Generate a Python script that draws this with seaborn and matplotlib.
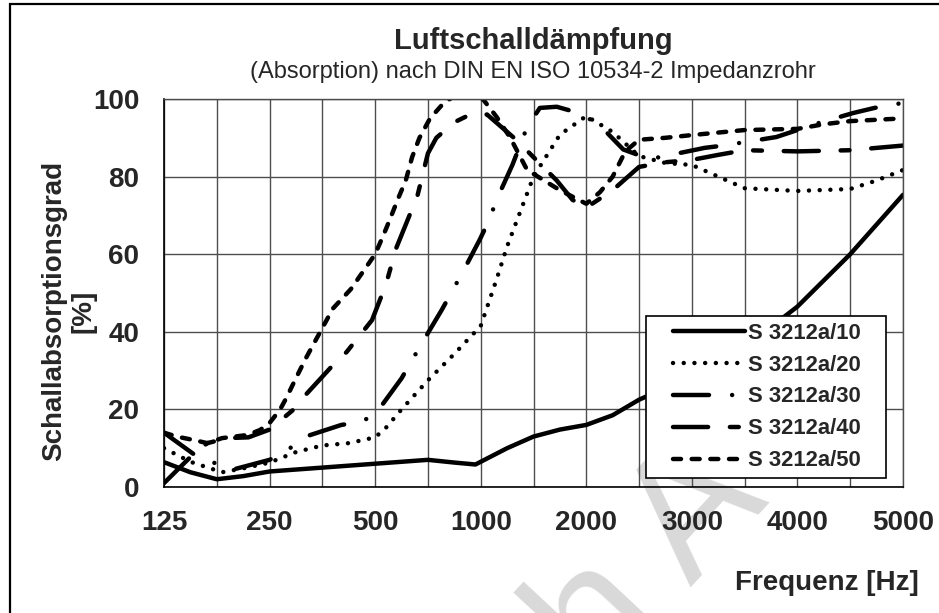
import numpy as np
import matplotlib
matplotlib.use("Agg")
import matplotlib.pyplot as plt
from matplotlib.patches import Rectangle
import seaborn as sns

# x axis: category positions, 0 = 125 Hz ... 7 = 5000 Hz (half steps have grid lines)
FREQ_LABELS = ["125", "250", "500", "1000", "2000", "3000", "4000", "5000"]
Y_TICKS = [0, 20, 40, 60, 80, 100]

NAMES = ["S 3212a/10", "S 3212a/20", "S 3212a/30", "S 3212a/40", "S 3212a/50"]

x10 = [0, 0.25, 0.5, 0.75, 1, 1.5, 2, 2.5, 2.75, 2.95, 3.25, 3.5, 3.75, 4, 4.25, 4.5, 5, 5.5, 6, 6.5, 7]
y10 = [6.4, 3.8, 2, 2.8, 4, 5, 6, 7, 6.3, 5.8, 10, 13, 14.8, 16, 18.5, 22.5, 28.5, 36, 46.5, 60, 75.3]

x20 = [0, 0.25, 0.55, 0.75, 1, 1.25, 1.5, 1.75, 2, 2.1, 2.25, 2.5, 2.75, 3, 3.15, 3.25, 3.5,
       3.75, 4, 4.25, 4.5, 4.75, 5, 5.25, 5.5, 6, 6.5, 6.75, 7]
y20 = [10, 6.5, 3.8, 4.8, 6.3, 9, 10.7, 11.3, 12.8, 15.2, 20, 27.5, 34.3, 41.5, 53.5, 62, 80,
       90.8, 95.6, 91.5, 85.3, 83.5, 83, 80, 77, 76.3, 76.8, 79, 81.7]

x30 = [0, 0.29, 0.64, 1, 1.17, 1.33, 1.68, 1.88, 2.03, 2.25, 2.35, 2.45, 2.63, 2.73, 2.83,
       2.99, 3.08, 3.15, 3.3, 3.44, 3.56, 3.72, 3.85, 4.1, 4.35, 4.6, 4.8, 5.12, 5.3, 5.8,
       6.2, 6.53, 6.73, 7]
y30 = [14, 8.3, 4.4, 7, 9.5, 12.9, 16, 16.8, 19.8, 28, 32.7, 37.4, 45.6, 50.5, 55.4,
       63.7, 68.8, 74, 83, 92.8, 97.7, 98, 97, 94, 87, 84.5, 85.6, 87.4, 88, 90.2,
       93.8, 96.4, 97.7, 99]

x40 = [0, 0.29, 0.41, 0.6, 0.8, 1.0, 1.22, 1.35, 1.6, 1.73, 1.97, 2.1, 2.2, 2.4, 2.5, 2.58,
       2.75, 2.9, 3.06, 3.34, 3.5, 3.72, 3.87, 4.0, 4.25, 4.5, 4.75, 5.0, 5.25, 5.5, 6.0, 6.5, 7]
y40 = [1, 8.8, 11.3, 12.6, 12.8, 14.8, 19.8, 24, 31.4, 34.8, 43, 52, 61.6, 75, 86, 90,
       94, 96, 96, 89.4, 85, 79, 74, 72, 76.5, 82.5, 83.7, 84.3, 85.6, 86.8, 86.5, 86.8, 88]

x50 = [0, 0.12, 0.3, 0.41, 0.55, 0.79, 0.91, 1.0, 1.1, 1.16, 1.24, 1.34, 1.5, 1.6, 1.77, 2.0,
       2.08, 2.14, 2.22, 2.29, 2.35, 2.42, 2.52, 2.65, 2.85, 3.02, 3.15, 3.28, 3.44, 3.6,
       3.75, 4.0, 4.13, 4.25, 4.37, 4.5, 4.75, 5.0, 5.5, 6.0, 6.25, 6.5, 7]
y50 = [14, 13, 12, 11.3, 12.6, 13.4, 14.7, 16.5, 20, 23, 27.5, 33, 41, 46, 51, 60,
       65, 69, 74.5, 79, 85, 90, 95, 99, 102.5, 100, 95.4, 90, 81.7, 79,
       76.5, 73, 76, 80, 86.5, 89.5, 90, 90.7, 92, 92.3, 93.5, 94.3, 95]

SERIES_X = [x10, x20, x30, x40, x50]
SERIES_Y = [y10, y20, y30, y40, y50]

# dash patterns in units of line width (round caps)
DASHES = [None, (0.01, 2.4), (8.1, 5.2, 0.01, 5.2), (7.9, 4.9, 2.0, 4.9), (1.8, 2.4)]

sns.set_style("white")
plt.rcParams["font.family"] = ["Liberation Sans", "DejaVu Sans"]

fig = plt.figure(figsize=(9.39, 6.13), dpi=100)
W, H = 939, 613
ax = fig.add_axes([164 / W, 1 - 487 / H, 739 / W, 388 / H])
ax.set_facecolor("none")

LW = 3.2
for name, xs, ys, dash in zip(NAMES, SERIES_X, SERIES_Y, DASHES):
    sns.lineplot(x=xs, y=ys, ax=ax, color="black", lw=LW, label=name,
                 sort=False, estimator=None)
    line = ax.lines[-1]
    line.set_solid_capstyle("round")
    line.set_dash_capstyle("round")
    if dash is not None:
        line.set_dashes(dash)

ax.set_xlim(0, 7)
ax.set_ylim(0, 100)
ticks = np.arange(0, 7.01, 0.5)
ax.set_xticks(ticks)
ax.set_xticklabels([FREQ_LABELS[int(t)] if t == int(t) else "" for t in ticks])
ax.set_yticks(Y_TICKS)
ax.set_yticklabels([str(v) for v in Y_TICKS])

ax.grid(True, color="#4d4d4d", lw=1.0)
ax.set_axisbelow(True)
ax.tick_params(axis="both", direction="out", length=5.8, width=1.0, color="#4d4d4d",
               labelsize=20)
ax.tick_params(axis="y", pad=12)
ax.tick_params(axis="x", pad=11)
for lab in ax.get_xticklabels() + ax.get_yticklabels():
    lab.set_fontweight("bold")

for side in ["left", "bottom"]:
    ax.spines[side].set_color("black")
    ax.spines[side].set_linewidth(1.2)
for side in ["top", "right"]:
    ax.spines[side].set_color("#4d4d4d")
    ax.spines[side].set_linewidth(1.0)
    ax.spines[side].set_visible(True)

ax.set_xlabel("")
ax.set_ylabel("")

# legend: frame drawn separately, entries centred inside it
box = Rectangle(((646 - 164) / 739, (487 - 478) / 388), 240 / 739, 162 / 388,
                transform=ax.transAxes, facecolor="white", edgecolor="black",
                lw=1.2, zorder=4.5)
ax.add_patch(box)
leg = ax.legend(loc="center", bbox_to_anchor=((767 - 164) / 739, (487 - 397) / 388),
                frameon=False, prop=dict(weight="bold", size=15.8),
                handlelength=3.3, handletextpad=0.15, labelspacing=0.5,
                borderpad=0, borderaxespad=0)
leg.set_zorder(5)

fig.text(533 / W, 1 - 49 / H, "Luftschalldämpfung", ha="center", va="baseline",
         fontsize=21, fontweight="bold")
fig.text(533 / W, 1 - 78 / H, "(Absorption) nach DIN EN ISO 10534-2 Impedanzrohr",
         ha="center", va="baseline", fontsize=17)
fig.text(69 / W, 1 - 311 / H, "Schallabsorptionsgrad\n[%]", rotation=90,
         ha="center", va="center", multialignment="center", fontsize=20,
         fontweight="bold", linespacing=1.2)
fig.text(919 / W, 1 - 590 / H, "Frequenz [Hz]", ha="right", va="baseline",
         fontsize=20, fontweight="bold")

# faint watermark, mostly hidden behind the plot and legend
fig.text(598 / W, 1 - 687 / H, "h A", rotation=47, rotation_mode="anchor",
         ha="left", va="baseline", fontsize=126, color="#d9d9d9", zorder=-1)

# outer chart border (cut off at right and bottom)
fig.patches.append(Rectangle((9.5 / W, -0.05), 1.2, 0.05 + 1 - 4 / H,
                             transform=fig.transFigure, fill=False,
                             edgecolor="black", lw=1.6))

fig.savefig("out.png", dpi=100)
